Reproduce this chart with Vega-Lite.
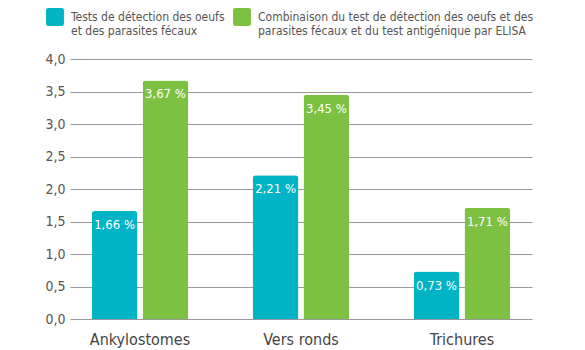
{
  "$schema": "https://vega.github.io/schema/vega-lite/v6.json",
  "width": 462,
  "height": 260,
  "autosize": {"type": "none"},
  "padding": {"left": 70, "top": 59, "right": 53, "bottom": 31},
  "background": "white",
  "config": {
    "view": {"stroke": null},
    "font": "DejaVu Sans Condensed, Liberation Sans Narrow, Roboto, sans-serif"
  },
  "data": {
    "values": [
      {"cat": "Ankylostomes", "serie": "A", "val": 1.66, "lab": "1,66 %"},
      {"cat": "Ankylostomes", "serie": "B", "val": 3.67, "lab": "3,67 %"},
      {"cat": "Vers ronds", "serie": "A", "val": 2.21, "lab": "2,21 %"},
      {"cat": "Vers ronds", "serie": "B", "val": 3.45, "lab": "3,45 %"},
      {"cat": "Trichures", "serie": "A", "val": 0.73, "lab": "0,73 %"},
      {"cat": "Trichures", "serie": "B", "val": 1.71, "lab": "1,71 %"}
    ]
  },
  "encoding": {
    "x": {
      "field": "cat", "type": "nominal", "sort": null,
      "scale": {"paddingInner": 0.4, "paddingOuter": 0.135},
      "axis": {"title": null, "labelAngle": 0, "domain": false, "ticks": false, "labelFontSize": 16, "labelColor": "#444", "labelPadding": 12}
    },
    "xOffset": {"field": "serie", "type": "nominal", "scale": {"paddingInner": 0.1}},
    "y": {
      "field": "val", "type": "quantitative",
      "scale": {"domain": [0, 4]},
      "axis": {"title": null, "values": [0, 0.5, 1, 1.5, 2, 2.5, 3, 3.5, 4], "labelExpr": "replace(format(datum.value, '.1f'), '.', ',')", "domain": false, "ticks": false, "labelPadding": 5, "labelFontSize": 14, "labelColor": "#555", "gridColor": "#999", "gridWidth": 1, "gridOpacity": 1}
    }
  },
  "layer": [
    {
      "mark": {"type": "bar", "cornerRadiusTopLeft": 3, "cornerRadiusTopRight": 3},
      "encoding": {
        "color": {
          "field": "serie", "type": "nominal",
          "scale": {"domain": ["A", "B"], "range": ["#00b4c6", "#7cc142"]},
          "legend": {
            "title": null, "orient": "none", "direction": "horizontal", "legendX": -24, "legendY": -51,
            "symbolType": "M-1,-0.75 Q-1,-1 -0.75,-1 L0.75,-1 Q1,-1 1,-0.75 L1,0.75 Q1,1 0.75,1 L-0.75,1 Q-1,1 -1,0.75 Z",
            "symbolSize": 320, "symbolStrokeWidth": 0, "symbolOpacity": 1,
            "labelExpr": "datum.label == 'A' ? ['Tests de détection des oeufs', 'et des parasites fécaux'] : ['Combinaison du test de détection des oeufs et des', 'parasites fécaux et du test antigénique par ELISA']",
            "labelFontSize": 12, "labelColor": "#555", "labelLimit": 400, "labelOffset": 7, "columnPadding": 8
          }
        }
      }
    },
    {
      "mark": {"type": "text", "baseline": "top", "dy": 8, "color": "white", "fontSize": 13},
      "encoding": {"text": {"field": "lab"}}
    }
  ]
}
